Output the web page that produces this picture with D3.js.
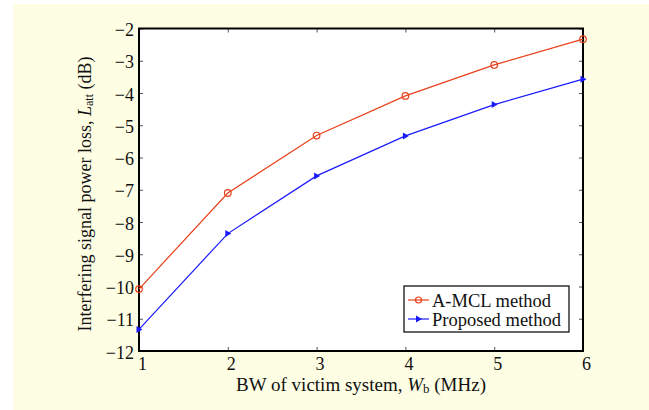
<!DOCTYPE html>
<meta charset="utf-8">
<script src="https://d3js.org/d3.v7.min.js"></script>
<style>
  body { margin: 0; background: #fff; }
  text { font-family: "Liberation Serif", "Times New Roman", serif; fill: #111; }
</style>
<div id="my_dataviz"></div>
<script>
// data
let bandwidth = [1, 2, 3, 4, 5, 6];
let amclLoss = [-10.08, -7.1, -5.32, -4.09, -3.13, -2.33];
let proposedLoss = [-11.33, -8.36, -6.57, -5.33, -4.36, -3.57];
let seriesNames = ["A-MCL method", "Proposed method"];
let yTicks = [-12, -11, -10, -9, -8, -7, -6, -5, -4, -3, -2];

let W = 649, H = 410;
let margin = {top: 28.5, right: 66, bottom: 59, left: 139},
    width = W - margin.left - margin.right,
    height = H - margin.top - margin.bottom;

let root = d3.select("#my_dataviz").append("svg")
    .attr("width", W).attr("height", H);

// cream page
root.append("rect").attr("x", 13).attr("y", 4)
    .attr("width", W - 13).attr("height", H - 4)
    .attr("fill", "#fefee4");

let svg = root.append("g")
    .attr("transform", "translate(" + margin.left + "," + margin.top + ")");

let x = d3.scaleLinear().domain([1, 6]).range([0, width]);
let y = d3.scaleLinear().domain([-12, -2]).range([height, 0]);

svg.append("rect").attr("width", width).attr("height", height).attr("fill", "#fff");

let minus = d => String(d).replace("-", "\u2212");

// ticks pointing inwards on all sides
let tickLen = 4;
svg.append("g").attr("transform", "translate(0," + height + ")")
    .call(d3.axisBottom(x).tickValues(bandwidth).tickSize(-tickLen).tickFormat(d3.format("d")))
    .call(g => g.select(".domain").remove())
    .call(g => g.selectAll("line").attr("stroke", "#555"))
    .call(g => g.selectAll("text").attr("font-size", 18).attr("dx", 3).attr("y", 19).attr("dy", 0));
svg.append("g")
    .call(d3.axisTop(x).tickValues(bandwidth).tickSize(-tickLen).tickFormat(""))
    .call(g => g.select(".domain").remove())
    .call(g => g.selectAll("line").attr("stroke", "#555"));
svg.append("g")
    .call(d3.axisLeft(y).tickValues(yTicks).tickSize(-tickLen).tickPadding(5).tickFormat(minus))
    .call(g => g.select(".domain").remove())
    .call(g => g.selectAll("line").attr("stroke", "#555"))
    .call(g => g.selectAll("text").attr("font-size", 18).attr("dy", "0.4em"));
svg.append("g").attr("transform", "translate(" + width + ",0)")
    .call(d3.axisRight(y).tickValues(yTicks).tickSize(-tickLen).tickFormat(""))
    .call(g => g.select(".domain").remove())
    .call(g => g.selectAll("line").attr("stroke", "#555"));

// frame
svg.append("rect").attr("width", width).attr("height", height)
    .attr("fill", "none").attr("stroke", "#000").attr("stroke-width", 2);

let line = d3.line().x((d, i) => x(bandwidth[i])).y(d => y(d));
let red = "#e8401a", blue = "#1a1aff";

svg.append("path").datum(amclLoss).attr("fill", "none")
    .attr("stroke", red).attr("stroke-width", 1.2).attr("d", line);
svg.append("path").datum(proposedLoss).attr("fill", "none")
    .attr("stroke", blue).attr("stroke-width", 1.2).attr("d", line);

svg.selectAll(".c").data(amclLoss).enter().append("circle")
    .attr("cx", (d, i) => x(bandwidth[i])).attr("cy", d => y(d))
    .attr("r", 3.3).attr("fill", "none").attr("stroke", red).attr("stroke-width", 1.2);

let tri = "M-2.5,-3.5L3.5,0L-2.5,3.5Z";
svg.selectAll(".t").data(proposedLoss).enter().append("path")
    .attr("transform", (d, i) => "translate(" + x(bandwidth[i]) + "," + y(d) + ")")
    .attr("d", tri).attr("fill", blue);

// legend
let lg = root.append("g").attr("transform", "translate(404,286)");
lg.append("rect").attr("width", 165).attr("height", 46)
    .attr("fill", "#fff").attr("stroke", "#000").attr("stroke-width", 1.2);
[[red, 14], [blue, 33]].forEach(function(s, i) {
    lg.append("line").attr("x1", 4).attr("x2", 25).attr("y1", s[1]).attr("y2", s[1])
        .attr("stroke", s[0]).attr("stroke-width", 1.2);
    if (i == 0) {
        lg.append("circle").attr("cx", 14.5).attr("cy", s[1]).attr("r", 3)
            .attr("fill", "none").attr("stroke", s[0]).attr("stroke-width", 1.2);
    } else {
        lg.append("path").attr("transform", "translate(14.5," + s[1] + ")")
            .attr("d", tri).attr("fill", s[0]);
    }
    lg.append("text").attr("x", 28).attr("y", s[1]).attr("dy", "0.36em")
        .attr("font-size", 18.5).text(seriesNames[i]);
});

// axis labels
let xl = root.append("text").attr("x", margin.left + width / 2).attr("y", 391)
    .attr("text-anchor", "middle").attr("font-size", 19);
xl.append("tspan").text("BW of victim system, ");
xl.append("tspan").attr("font-style", "italic").text("W");
xl.append("tspan").attr("font-size", 13).attr("dy", 2).text("b");
xl.append("tspan").attr("dy", -2).text(" (MHz)");

let yl = root.append("text")
    .attr("transform", "translate(91,194) rotate(-90)")
    .attr("text-anchor", "middle").attr("font-size", 18);
yl.append("tspan").text("Interfering signal power loss, ");
yl.append("tspan").attr("font-style", "italic").text("L");
yl.append("tspan").attr("font-size", 12).attr("dy", 2).text("att");
yl.append("tspan").attr("dy", -2).text(" (dB)");
</script>
